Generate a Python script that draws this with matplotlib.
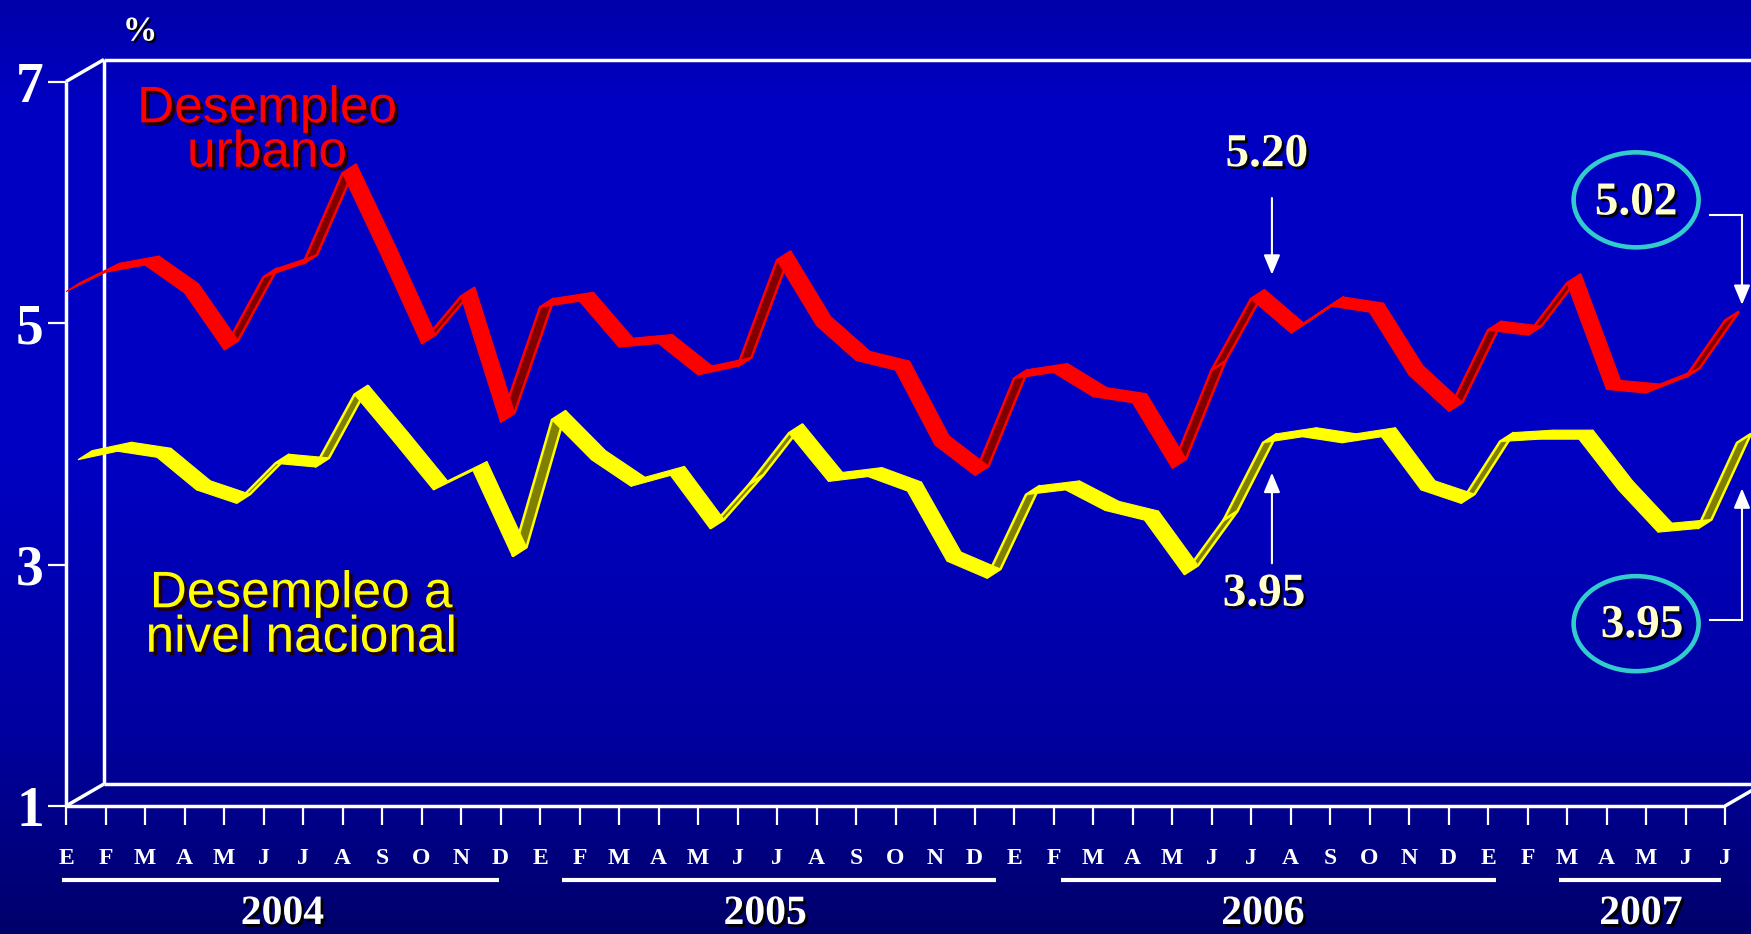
import numpy as np
import matplotlib
matplotlib.use('Agg')
import matplotlib.pyplot as plt
import matplotlib.patheffects as pe
from matplotlib.patches import Polygon, Ellipse
from matplotlib.transforms import blended_transform_factory

# data: monthly unemployment rate (%), Jan 2004 - Jul 2007
months = ['E', 'F', 'M', 'A', 'M', 'J', 'J', 'A', 'S', 'O', 'N', 'D'] * 3 + \
         ['E', 'F', 'M', 'A', 'M', 'J', 'J']
years = ['2004', '2005', '2006', '2007']

urbano = [5.26, 5.42, 5.48, 5.25, 4.78, 5.38, 5.49, 6.24, 5.55, 4.83, 5.22, 4.18,
          5.13, 5.18, 4.80, 4.83, 4.57, 4.64, 5.52, 4.98, 4.69, 4.61, 3.99, 3.74,
          4.54, 4.59, 4.39, 4.34, 3.80, 4.61, 5.20, 4.92, 5.14, 5.09, 4.57, 4.27,
          4.94, 4.90, 5.33, 4.45, 4.42, 4.55, 5.02]
nacional = [3.81, 3.88, 3.83, 3.56, 3.45, 3.78, 3.75, 4.35, 3.96, 3.56, 3.72, 3.01,
            4.14, 3.81, 3.59, 3.68, 3.24, 3.61, 4.03, 3.63, 3.67, 3.55, 2.97, 2.83,
            3.52, 3.56, 3.39, 3.31, 2.86, 3.31, 3.95, 4.00, 3.95, 4.00, 3.56, 3.45,
            3.96, 3.98, 3.98, 3.56, 3.21, 3.24, 3.95]

W, H = 1751, 934
fig = plt.figure(figsize=(W / 100, H / 100), dpi=100)

# blue gradient background
bg = fig.add_axes([0, 0, 1, 1], zorder=-10)
t = np.linspace(0, 1, H)
stops = [0, 0.12, 0.5, 0.78, 1.0]
blues = [0xA8, 0xC4, 0xC2, 0xA0, 0x6A]
grad = np.zeros((H, 1, 3))
grad[:, 0, 2] = np.interp(t, stops, blues) / 255
bg.imshow(grad, aspect='auto', extent=[0, 1, 0, 1])
bg.axis('off')

ax = fig.add_axes([66 / W, 128 / H, 1659 / W, 724.5 / H])
ax.set_xlim(0, 42)
ax.set_ylim(1, 7)
ax.patch.set_visible(False)
for s in ax.spines.values():
    s.set_visible(False)

pxx = 1659 / 42      # pixels per month
pxy = 724.5 / 6      # pixels per percent
bx, by = 38 / pxx, 22 / pxy   # depth of the 3D box

# 3D box
box = dict(color='white', lw=2.5, clip_on=False, zorder=2, solid_capstyle='butt')
ax.plot([0, 0], [1, 7], **box)
ax.plot([0, bx], [7, 7 + by], **box)
ax.plot([bx, 44], [7 + by, 7 + by], **box)
ax.plot([bx, bx], [1 + by, 7 + by], **box)
ax.plot([0, bx], [1, 1 + by], **box)
ax.plot([bx, 44], [1 + by, 1 + by], **box)
ax.plot([0, 42], [1, 1], **box)
ax.plot([42, 42 + bx], [1, 1 + by], **box)

# ticks
ax.set_xticks(range(len(months)))
ax.set_xticklabels(months, fontfamily='Liberation Serif', fontweight='bold')
ax.tick_params(axis='x', colors='white', length=14, width=1.6, pad=16, labelsize=17)
ax.set_yticks([1, 3, 5, 7])
ax.set_yticklabels(['1', '3', '5', '7'], fontfamily='Liberation Serif', fontweight='bold')
ax.tick_params(axis='y', colors='white', length=13, width=1.6, pad=3, labelsize=40)

# ribbons
rdx, rdy = 14 / pxx, 9 / pxy


def ribbon(values, ox, oy, face, dark):
    x = np.arange(len(values)) + ox
    v = np.asarray(values) + oy
    for i in range(len(values) - 1):
        quad = [(x[i], v[i]), (x[i + 1], v[i + 1]),
                (x[i + 1] + rdx, v[i + 1] + rdy), (x[i] + rdx, v[i] + rdy)]
        sx = (x[i + 1] - x[i]) * pxx
        sy = (v[i + 1] - v[i]) * pxy
        if sx * 9 - sy * 14 >= 0:
            p = Polygon(quad, closed=True, fc=face, ec=face, lw=0.8, zorder=4)
        else:
            p = Polygon(quad, closed=True, fc=dark, ec=face, lw=1.8, zorder=3)
        p.set_clip_on(False)
        ax.add_patch(p)


ribbon(urbano, 0, 0, '#FF0000', '#800000')
ribbon(nacional, 12 / pxx, 7 / pxy, '#FFFF00', '#808000')

# series labels
shadow = [pe.SimplePatchShadow(offset=(2.5, -2.5), shadow_rgbFace='#200000', alpha=1.0),
          pe.Normal()]
fig.text(267 / W, 1 - 131 / H, 'Desempleo\nurbano', color='#FF0000', fontsize=37,
         fontfamily='Liberation Sans', ha='center', va='center', linespacing=0.88,
         path_effects=shadow)
fig.text(301 / W, 1 - 616 / H, 'Desempleo a\nnivel nacional', color='#FFFF00', fontsize=37,
         fontfamily='Liberation Sans', ha='center', va='center', linespacing=0.88,
         path_effects=shadow)

fig.text(140 / W, 1 - 32 / H, '%', color='white', fontsize=25, fontweight='bold',
         fontfamily='Liberation Serif', ha='center', va='center',
         path_effects=[pe.SimplePatchShadow(offset=(1.5, -1.5), shadow_rgbFace='black',
                                            alpha=1.0), pe.Normal()])

# year underlines and labels
trans = blended_transform_factory(ax.transData, fig.transFigure)
year_spans = [(-0.1, 10.95), (12.55, 23.55), (25.2, 36.2), (37.8, 41.9)]
year_centers = [5.48, 17.7, 30.3, 39.87]
ysh = [pe.SimplePatchShadow(offset=(2, -2), shadow_rgbFace='black', alpha=1.0), pe.Normal()]
for yr, (a, b), c in zip(years, year_spans, year_centers):
    ax.plot([a, b], [1 - 880 / H, 1 - 880 / H], transform=trans, color='white',
            lw=3, clip_on=False, solid_capstyle='butt')
    ax.text(c, 1 - 933 / H, yr, transform=trans, color='white', fontsize=30,
            fontweight='bold', fontfamily='Liberation Serif', ha='center',
            va='bottom', path_effects=ysh)

# annotations
nsh = [pe.SimplePatchShadow(offset=(2, -2), shadow_rgbFace='black', alpha=0.9), pe.Normal()]
num = dict(color='#FFFFCC', fontsize=34, fontweight='bold', fontfamily='Liberation Serif',
           ha='center', va='center', path_effects=nsh, zorder=6)
arr = dict(arrowstyle='-|>,head_length=0.6,head_width=0.25', color='white', lw=1.5,
           mutation_scale=20, shrinkA=0, shrinkB=0)

ax.text(30.4, 6.39, '5.20', **num)
ax.annotate('', xy=(30.53, 5.40), xytext=(30.53, 6.035), arrowprops=arr,
            annotation_clip=False)
ax.text(30.33, 2.75, '3.95', **num)
ax.annotate('', xy=(30.53, 3.76), xytext=(30.53, 3.01), arrowprops=arr,
            annotation_clip=False)

for cy, ty, tx, txt in [(6.02, 5.99, 39.75, '5.02'), (2.51, 2.49, 39.9, '3.95')]:
    e = Ellipse((39.75, cy), 125 / pxx, 95 / pxy, fill=False, ec='#33CCCC', lw=3.3,
                zorder=5, clip_on=False)
    ax.add_patch(e)
    ax.text(tx, ty, txt, clip_on=False, **num)

ax.plot([41.62, 42.43], [5.895, 5.895], color='white', lw=1.5, clip_on=False)
ax.annotate('', xy=(42.43, 5.15), xytext=(42.43, 5.895), arrowprops=arr,
            annotation_clip=False)
ax.plot([41.62, 42.43], [2.54, 2.54], color='white', lw=1.5, clip_on=False)
ax.annotate('', xy=(42.43, 3.63), xytext=(42.43, 2.54), arrowprops=arr,
            annotation_clip=False)

fig.savefig('out.png', dpi=100)
